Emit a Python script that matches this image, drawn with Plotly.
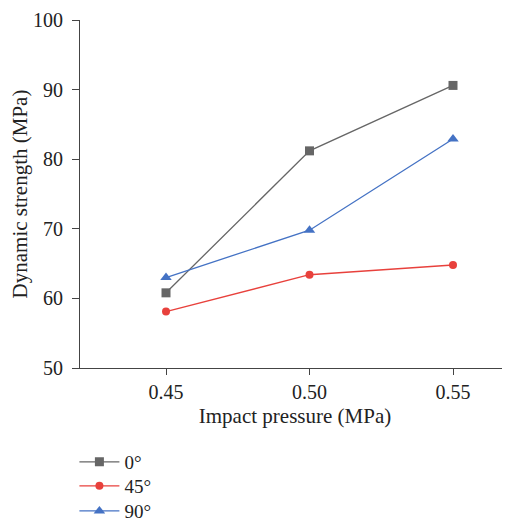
import plotly.graph_objects as go

pressure = [0.45, 0.50, 0.55]
series_names = ["0°", "45°", "90°"]
strength_0 = [60.8, 81.2, 90.6]
strength_45 = [58.1, 63.4, 64.8]
strength_90 = [63.0, 69.8, 82.9]
y_ticks = [50, 60, 70, 80, 90, 100]
x_ticks = [0.45, 0.50, 0.55]
x_tick_labels = ["0.45", "0.50", "0.55"]

colors = ["#666666", "#e8413c", "#4472c4"]
symbols = ["square", "circle", "triangle-up"]
sizes = [9, 8, 10]
legend_ids = ["legend", "legend2", "legend3"]
legend_y = [-0.270, -0.339, -0.411]

font_family = "Liberation Serif, Times New Roman, serif"

fig = go.Figure()
for name, vals, c, s, sz, lg in zip(series_names, [strength_0, strength_45, strength_90],
                                    colors, symbols, sizes, legend_ids):
    fig.add_trace(go.Scatter(x=pressure, y=vals, name=name, mode="lines+markers",
                             line=dict(color=c, width=1.3),
                             marker=dict(color=c, symbol=s, size=sz), legend=lg))

legend_common = dict(x=-0.013, xanchor="left", yanchor="middle",
                     font=dict(size=19, family=font_family, color="#222222"),
                     itemwidth=40, bgcolor="rgba(0,0,0,0)")
fig.update_layout(
    width=502, height=516,
    margin=dict(l=72, r=0, t=12, b=156, autoexpand=False),
    plot_bgcolor="white", paper_bgcolor="white",
    font=dict(family=font_family, size=20, color="#222222"),
    showlegend=True,
    legend=dict(y=legend_y[0], **legend_common),
    legend2=dict(y=legend_y[1], **legend_common),
    legend3=dict(y=legend_y[2], **legend_common),
    xaxis=dict(range=[0.42003, 0.56986], tickvals=x_ticks, ticktext=x_tick_labels,
               showgrid=False, zeroline=False, showline=True, linecolor="#444444", linewidth=1.2,
               ticks="outside", ticklen=6, tickcolor="#444444", automargin=False,
               tickfont=dict(size=20),
               title=dict(text="Impact pressure (MPa)", font=dict(size=21), standoff=6)),
    yaxis=dict(range=[50, 100], tickvals=y_ticks,
               showgrid=False, zeroline=False, showline=True, linecolor="#444444", linewidth=1.2,
               ticks="outside", ticklen=7, tickcolor="#444444", automargin=False,
               ticklabelstandoff=5,
               tickfont=dict(size=20),
               title=dict(text="Dynamic strength (MPa)", font=dict(size=21), standoff=4)),
)
fig.write_html("out.html")
